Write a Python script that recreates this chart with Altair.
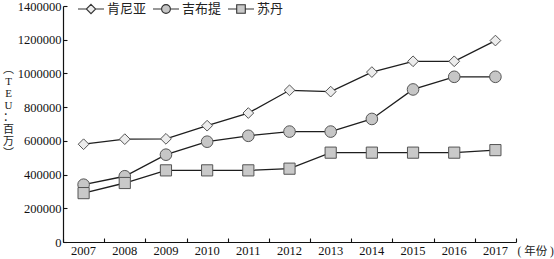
import altair as alt
import pandas as pd

years = [str(y) for y in range(2007, 2018)]
series = ["肯尼亚", "吉布提", "苏丹"]
kenya = [580000, 610000, 612000, 690000, 765000, 900000, 892000, 1008000, 1072000, 1072000, 1195000]
djibouti = [340000, 390000, 518000, 595000, 630000, 655000, 655000, 730000, 905000, 980000, 980000]
sudan = [290000, 350000, 425000, 425000, 425000, 435000, 530000, 530000, 530000, 530000, 545000]
y_ticks = [0, 200000, 400000, 600000, 800000, 1000000, 1200000, 1400000]

rows = []
for name, vals in zip(series, [kenya, djibouti, sudan]):
    for yr, v in zip(years, vals):
        rows.append({"year": yr, "series": name, "value": v})
df = pd.DataFrame(rows)

W, H = 453, 236
SERIF = "Liberation Serif, Noto Sans CJK SC"

xscale = alt.Scale(type="band", paddingInner=0, paddingOuter=0, domain=years)
yscale = alt.Scale(domain=[0, 1400000], nice=False, zero=True)

fills = ["#ececec", "#c6c6c6", "#c9c9c9"]
shapes = ["diamond", "circle", "square"]
sizes = [115, 135, 125]
legend_paths = [
    "M-1,0H-0.36M0.36,0H1M0,-0.36L0.36,0L0,0.36L-0.36,0Z",
    "M-1,0H-0.34M0.34,0H1M0.34,0A0.34,0.34,0,1,1,-0.34,0A0.34,0.34,0,1,1,0.34,0Z",
    "M-1,0H-0.33M0.33,0H1M-0.33,-0.33H0.33V0.33H-0.33Z",
]
legend_x = [14, 89, 164]

lines = alt.Chart(df).mark_line(color="#1e1e1e", strokeWidth=1.3).encode(
    x=alt.X(
        "year:O",
        scale=xscale,
        bandPosition=0.5,
        axis=alt.Axis(
            title="( 年份 )",
            titleFont=SERIF,
            titleFontSize=11.5,
            titleFontWeight="normal",
            titleColor="#222222",
            titleX=454,
            titleY=12.5,
            titleAlign="left",
            titleBaseline="alphabetic",
            labelAngle=0,
            labelFont="Liberation Serif",
            labelFontSize=12.5,
            labelColor="#111111",
            labelPadding=2,
            ticks=False,
            domainColor="#111111",
            domainWidth=1.2,
            grid=False,
        ),
    ),
    y=alt.Y(
        "value:Q",
        scale=yscale,
        axis=alt.Axis(
            values=y_ticks,
            format="d",
            title=["︵", "T", "E", "U", "：", "百", "万", "︶"],
            titleAngle=360,
            titleFont=SERIF,
            titleFontSize=11,
            titleFontWeight="normal",
            titleColor="#222222",
            titleLineHeight=12,
            titleX=-55,
            titleY=57,
            titleAlign="center",
            titleBaseline="top",
            labelFont="Liberation Serif",
            labelFontSize=12.5,
            labelColor="#111111",
            labelPadding=2,
            ticks=False,
            domainColor="#111111",
            domainWidth=1.2,
            grid=False,
        ),
    ),
    detail="series:N",
)

tick_x_axis = alt.Axis(
    orient="top", offset=-H, labels=False, domain=False, title=None, ticks=True,
    tickBand="extent", tickSize=4, tickColor="#111111", tickWidth=1.1, grid=False,
)
tick_y_axis = alt.Axis(
    orient="right", offset=-W, values=y_ticks, labels=False, domain=False, title=None,
    ticks=True, tickSize=4, tickColor="#111111", tickWidth=1.1, grid=False,
)

point_layers = []
for i, name in enumerate(series):
    leg = alt.Legend(
        title=None,
        orient="none",
        legendX=legend_x[i],
        legendY=-11,
        padding=0,
        symbolSize=676,
        symbolType=legend_paths[i],
        symbolStrokeColor="#333333",
        symbolStrokeWidth=1.1,
        labelFont="Noto Sans CJK SC",
        labelFontSize=13,
        labelColor="#222222",
        labelOffset=2,
    )
    layer = (
        alt.Chart(df)
        .transform_filter(alt.datum.series == name)
        .mark_point(filled=True, shape=shapes[i], size=sizes[i], stroke="#555555", strokeWidth=1, opacity=1)
        .encode(
            x=alt.X("year:O", scale=xscale, bandPosition=0.5, axis=tick_x_axis if i == 0 else None),
            y=alt.Y("value:Q", scale=yscale, axis=tick_y_axis if i == 0 else None),
            fill=alt.Fill("series:N", scale=alt.Scale(domain=[name], range=[fills[i]]), legend=leg),
        )
    )
    point_layers.append(layer)

chart = (
    alt.layer(lines, *point_layers)
    .resolve_axis(x="independent", y="independent")
    .resolve_scale(fill="independent")
    .properties(
        width=W,
        height=H,
        autosize=alt.AutoSizeParams(type="none"),
        padding={"left": 63, "top": 6, "right": 38, "bottom": 17},
        background="white",
    )
    .configure_view(stroke=None)
)

chart.save("out.html", embed_options={"renderer": "svg", "actions": False})
